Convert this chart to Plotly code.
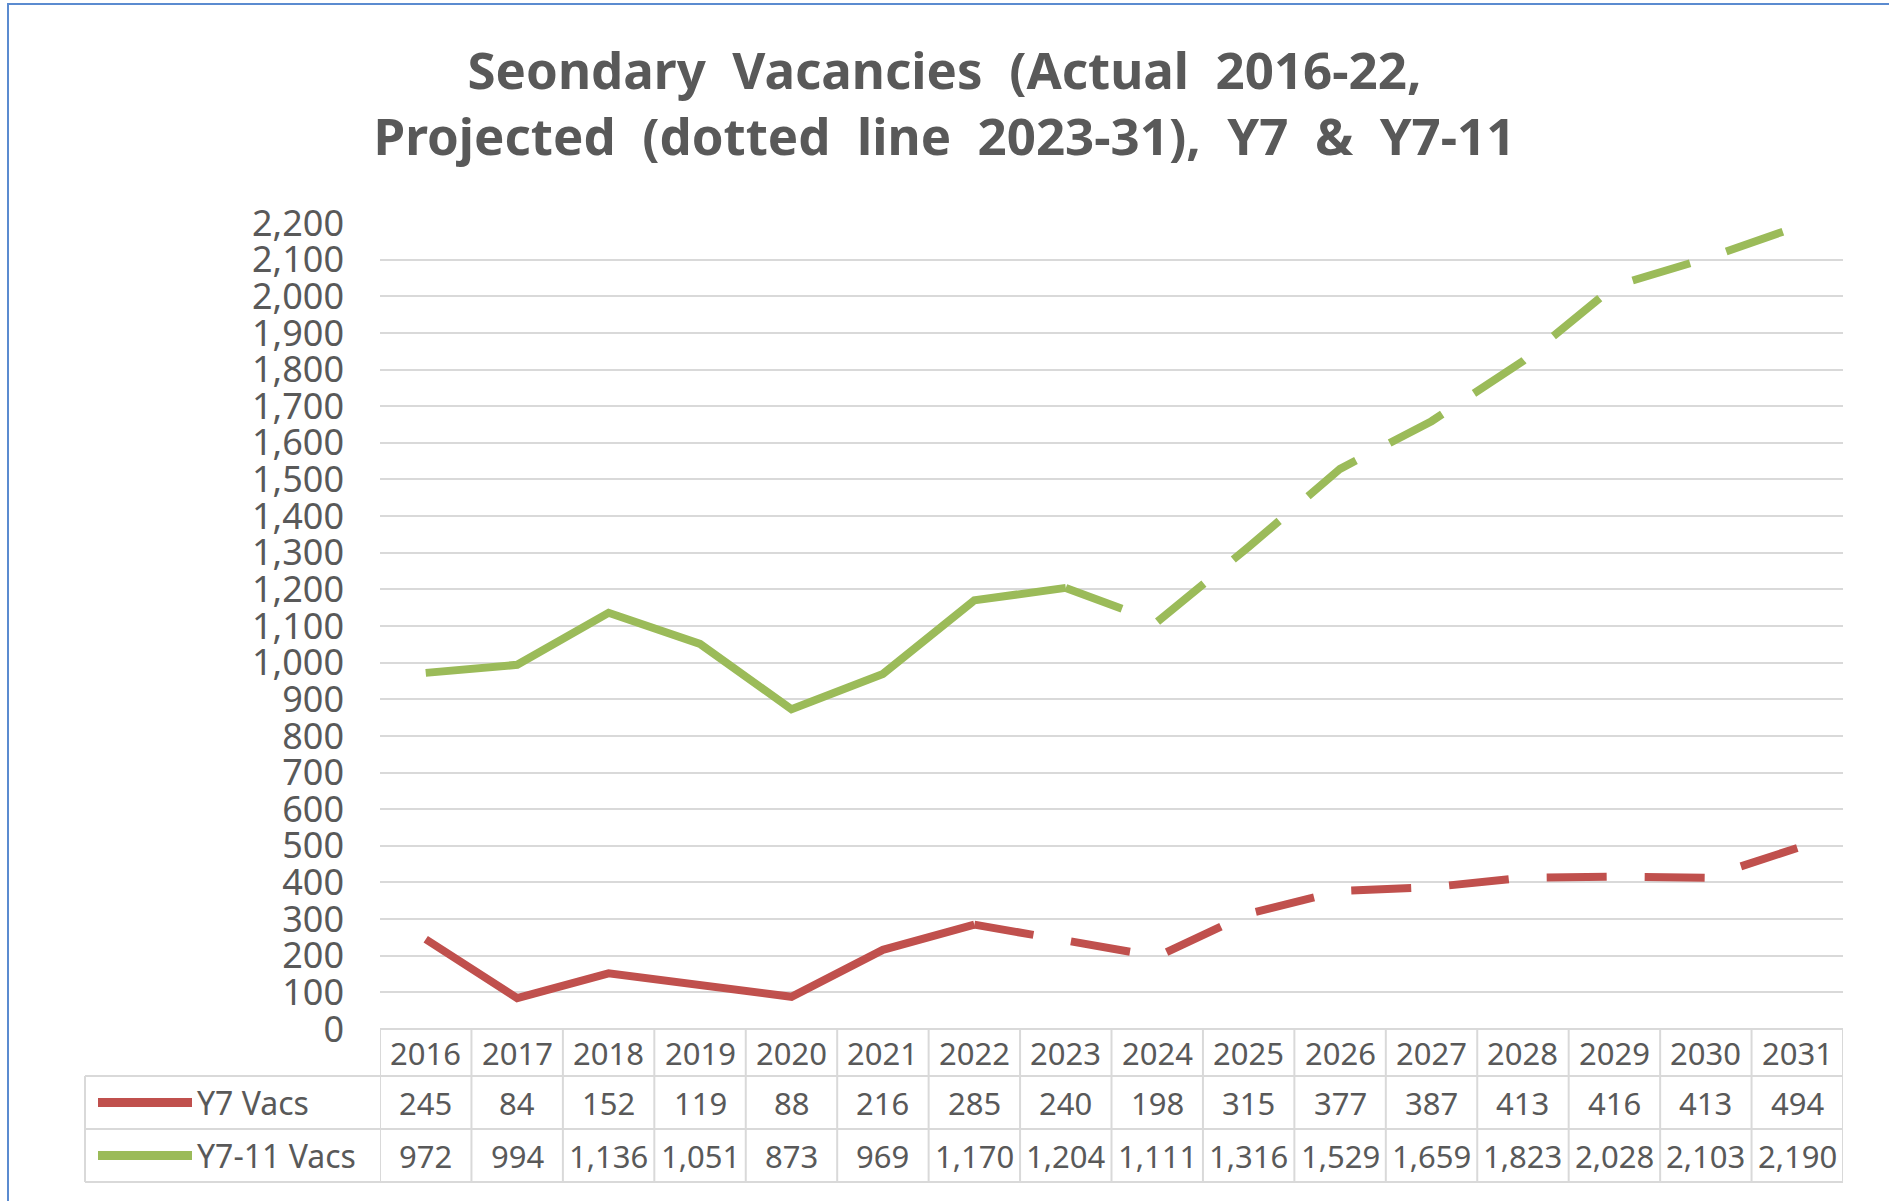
import plotly.graph_objects as go

years = ['2016', '2017', '2018', '2019', '2020', '2021', '2022', '2023',
         '2024', '2025', '2026', '2027', '2028', '2029', '2030', '2031']
y7_vacs = [245, 84, 152, 119, 88, 216, 285, 240, 198, 315, 377, 387, 413, 416, 413, 494]
y7_11_vacs = [972, 994, 1136, 1051, 873, 969, 1170, 1204, 1111, 1316, 1529, 1659, 1823, 2028, 2103, 2190]
series_names = ['Y7 Vacs', 'Y7-11 Vacs']
# index where the projected (dashed) part starts
y7_dash_from = 6
y7_11_dash_from = 7

RED = '#c0504d'
GREEN = '#9bbb59'
GREY = '#595959'
GRID = '#d9d9d9'
FONT = 'Noto Sans'

W, H = 1889, 1201
PL, PR, PT, PB = 380, 1843, 223, 1029  # plot area in pixels


def px_x(p):
    return (p - PL) / (PR - PL)


def px_y(p):
    return (PB - p) / (PB - PT)


fig = go.Figure()

for vals, color, cut in [(y7_vacs, RED, y7_dash_from), (y7_11_vacs, GREEN, y7_11_dash_from)]:
    fig.add_trace(go.Scatter(x=years[:cut + 1], y=vals[:cut + 1], mode='lines',
                             line=dict(color=color, width=8), hoverinfo='skip'))
    fig.add_trace(go.Scatter(x=years[cut:], y=vals[cut:], mode='lines',
                             line=dict(color=color, width=8, dash='60px,38px'), hoverinfo='skip'))

shapes = []
annotations = []

# data table under the chart
row_top = [1029, 1076, 1129]
row_bot = [1076, 1129, 1182]
table_left = 85
n = len(years)

shapes.append(dict(type='line', xref='paper', yref='paper', x0=0, x1=1,
                   y0=px_y(1029), y1=px_y(1029), line=dict(color=GRID, width=2)))
for yy in row_bot:
    shapes.append(dict(type='line', xref='paper', yref='paper', x0=px_x(table_left), x1=1,
                       y0=px_y(yy), y1=px_y(yy), line=dict(color=GRID, width=2)))
for i in range(n + 1):
    shapes.append(dict(type='line', xref='x', yref='paper', x0=i - 0.5, x1=i - 0.5,
                       y0=px_y(1029), y1=px_y(1182), line=dict(color=GRID, width=2)))
shapes.append(dict(type='line', xref='paper', yref='paper', x0=px_x(table_left), x1=px_x(table_left),
                   y0=px_y(1076), y1=px_y(1182), line=dict(color=GRID, width=2)))

# header years
for i, yr in enumerate(years):
    annotations.append(dict(x=i, y=px_y(1053), xref='x', yref='paper', text=yr,
                            xanchor='center', yanchor='middle', showarrow=False,
                            font=dict(family=FONT, size=31, color=GREY)))

# rows with legend keys
for r, (vals, color, name) in enumerate([(y7_vacs, RED, series_names[0]),
                                         (y7_11_vacs, GREEN, series_names[1])]):
    yc = (row_top[r + 1] + row_bot[r + 1]) / 2
    shapes.append(dict(type='line', xref='paper', yref='paper', x0=px_x(98), x1=px_x(192),
                       y0=px_y(yc), y1=px_y(yc), line=dict(color=color, width=9)))
    annotations.append(dict(x=px_x(195), y=px_y(yc), xref='paper', yref='paper', text=name,
                            xanchor='left', yanchor='middle', showarrow=False,
                            font=dict(family=FONT, size=32, color=GREY)))
    for i, v in enumerate(vals):
        annotations.append(dict(x=i, y=px_y(yc), xref='x', yref='paper', text=f'{v:,}',
                                xanchor='center', yanchor='middle', showarrow=False,
                                font=dict(family=FONT, size=31, color=GREY)))

# outer chart border (only top and left visible)
shapes.append(dict(type='rect', xref='paper', yref='paper', x0=px_x(8), x1=px_x(W + 20),
                   y0=px_y(4), y1=px_y(H + 20), line=dict(color='#5b8bd0', width=2)))

fig.update_layout(
    width=W, height=H,
    margin=dict(l=PL, r=W - PR, t=PT, b=H - PB),
    paper_bgcolor='white', plot_bgcolor='white',
    showlegend=False,
    title=dict(text='Seondary  Vacancies  (Actual  2016-22,<br>Projected  (dotted  line  2023-31),  Y7  &  Y7-11',
               x=0.5, xanchor='center', y=1 - 89 / H, yanchor='middle',
               font=dict(family=FONT, size=51, color=GREY, weight='bold')),
    xaxis=dict(type='category', range=[-0.5, n - 0.5], showticklabels=False,
               showgrid=False, zeroline=False, showline=False),
    yaxis=dict(range=[0, 2200], dtick=100, tickformat=',', showgrid=True, gridcolor=GRID,
               gridwidth=2, zeroline=False, showline=False, ticklabelstandoff=35,
               tickfont=dict(family=FONT, size=36, color=GREY)),
    shapes=shapes,
    annotations=annotations,
)

# drop the default page margin so the figure sits at the window's corner
fig.write_html('out.html', config={'displayModeBar': False},
               post_script="document.body.style.margin='0';")
